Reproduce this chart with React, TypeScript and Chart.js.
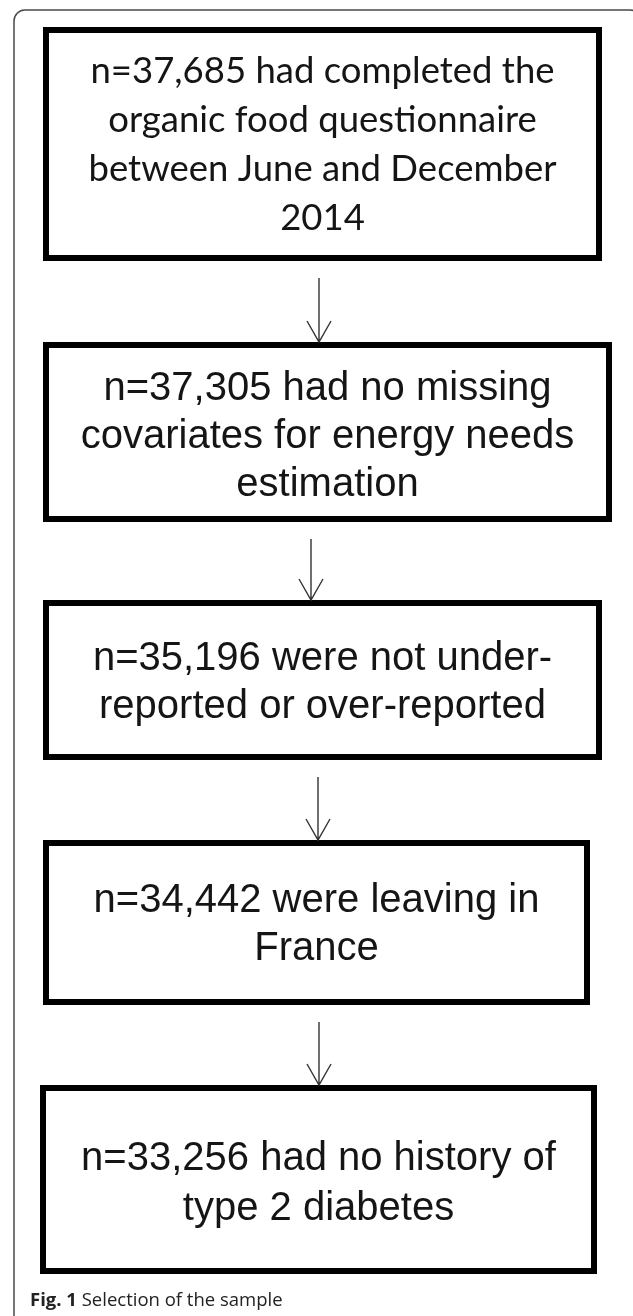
import React, { useEffect, useRef } from "react";
import { Chart, registerables } from "chart.js";
Chart.register(...registerables);

// ---- data ----
const counts = [37685, 37305, 35196, 34442, 33256];
const firstLineRest = ["had completed the", "had no missing", "were not under-", "were leaving in", "had no history of"];
const extraLines = [
  ["organic food questionnaire", "between June and December", "2014"],
  ["covariates for energy needs", "estimation"],
  ["reported or over-reported"],
  ["France"],
  ["type 2 diabetes"],
];
const captionLabel = "Fig. 1";
const captionText = "Selection of the sample";

// ---- layout (in scale units) ----
const W = 633;
const H = 1316;
const boxLeft = [43, 43, 43, 43, 40];
const boxRight = [602, 612, 602, 590, 597];
const boxTop = [27, 342, 600, 840, 1085];
const boxBottom = [261, 522, 760, 1005, 1274];
const firstBaseline = [83, 400, 670, 912, 1170];
const lineGap = [49, 48, 48, 48, 50];
const arrowX = [319, 311, 318, 319];
const arrowGap = 17;

const flowPlugin = {
  id: "flow",
  afterDraw(chart: any) {
    const ctx = chart.ctx as CanvasRenderingContext2D;
    const xs = chart.scales.x;
    const ys = chart.scales.y;
    const px = (v: number) => xs.getPixelForValue(v);
    const py = (v: number) => ys.getPixelForValue(v);
    ctx.save();

    // outer frame
    const fx = px(14), fy = py(10), fw = px(641) - fx, fh = py(1330) - fy, r = 11;
    ctx.strokeStyle = "#4a4a4a";
    ctx.lineWidth = 1.5;
    ctx.beginPath();
    ctx.moveTo(fx + r, fy);
    ctx.lineTo(fx + fw - r, fy);
    ctx.arcTo(fx + fw, fy, fx + fw, fy + r, r);
    ctx.lineTo(fx + fw, fy + fh - r);
    ctx.arcTo(fx + fw, fy + fh, fx + fw - r, fy + fh, r);
    ctx.lineTo(fx + r, fy + fh);
    ctx.arcTo(fx, fy + fh, fx, fy + fh - r, r);
    ctx.lineTo(fx, fy + r);
    ctx.arcTo(fx, fy, fx + r, fy, r);
    ctx.closePath();
    ctx.stroke();

    // boxes
    counts.forEach((c, i) => {
      const l = px(boxLeft[i]), rr = px(boxRight[i]);
      const t = py(boxTop[i]), b = py(boxBottom[i]);
      ctx.strokeStyle = "#000";
      ctx.lineWidth = 6;
      ctx.strokeRect(l + 3, t + 3, rr - l - 6, b - t - 6);
      const lines = ["n=" + c.toLocaleString("en-US") + " " + firstLineRest[i], ...extraLines[i]];
      ctx.fillStyle = "#151515";
      ctx.textAlign = "center";
      ctx.textBaseline = "alphabetic";
      ctx.font = i === 0 ? "36.5px Lato" : "40px 'Liberation Sans'";
      const cx = (l + rr) / 2;
      lines.forEach((s, k) => {
        ctx.fillText(s, cx, py(firstBaseline[i] + k * lineGap[i]));
      });
    });

    // arrows
    arrowX.forEach((ax, i) => {
      const x = px(ax);
      const y0 = py(boxBottom[i] + arrowGap);
      const y1 = py(boxTop[i + 1]);
      ctx.strokeStyle = "#333";
      ctx.lineWidth = 1.4;
      ctx.beginPath();
      ctx.moveTo(x, y0);
      ctx.lineTo(x, y1);
      ctx.moveTo(x - 12, y1 - 21);
      ctx.lineTo(x, y1);
      ctx.lineTo(x + 12, y1 - 21);
      ctx.stroke();
    });

    // caption
    ctx.textAlign = "left";
    ctx.fillStyle = "#222";
    ctx.font = "bold 18.5px 'Open Sans'";
    const cx0 = px(30), cy = py(1306);
    ctx.fillText(captionLabel, cx0, cy);
    const wLab = ctx.measureText(captionLabel + " ").width;
    ctx.font = "18.5px 'Open Sans'";
    ctx.fillText(captionText, cx0 + wLab, cy);
    ctx.restore();
  },
};

export default function App() {
  const ref = useRef<HTMLCanvasElement | null>(null);
  useEffect(() => {
    document.body.style.margin = "0";
    document.body.style.overflow = "hidden";
    const canvas = ref.current!;
    const chart = new Chart(canvas, {
      type: "scatter",
      data: {
        datasets: [
          {
            data: counts.map((_, i) => ({ x: (boxLeft[i] + boxRight[i]) / 2, y: (boxTop[i] + boxBottom[i]) / 2 })),
            pointRadius: 0,
          },
        ],
      },
      options: {
        animation: false,
        responsive: false,
        devicePixelRatio: 1,
        layout: { padding: 0 },
        plugins: { legend: { display: false }, tooltip: { enabled: false } },
        scales: {
          x: { type: "linear", min: 0, max: W, display: false },
          y: { type: "linear", min: 0, max: H, reverse: true, display: false },
        },
      },
      plugins: [flowPlugin],
    });
    return () => chart.destroy();
  }, []);
  return (
    <div style={{ width: W, height: H, background: "#fff" }}>
      <canvas ref={ref} width={W} height={H} style={{ display: "block", width: W, height: H }} />
    </div>
  );
}
